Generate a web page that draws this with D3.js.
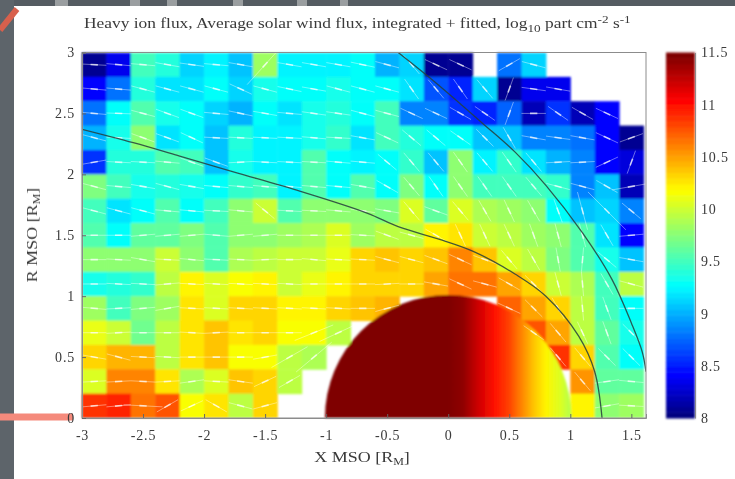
<!DOCTYPE html>
<html><head><meta charset="utf-8">
<script src="https://cdn.jsdelivr.net/npm/d3@7"></script>
<style>
html,body{margin:0;padding:0;background:#fff;overflow:hidden}
svg{display:block}
text{font-family:"Liberation Serif",serif;fill:#3a3a3a}
</style></head><body><svg id="c" width="735" height="479"></svg>
<script>
const n = null;
const xTicks = [-3,-2.5,-2,-1.5,-1,-0.5,0,0.5,1,1.5];
const rTicks = [0,0.5,1,1.5,2,2.5,3];
const cbTicks = [8,8.5,9,9.5,10,10.5,11,11.5];
const cellSize = 0.2;
const xStart = -3;
// log10 flux, top row (R 2.8-3) first; 23 columns from X=-3
const flux = [
[8.1,8.35,9.5,9.4,9.1,9.25,9.05,9.85,9.25,9.25,9.25,9.3,9.0,9.1,8.1,8.1,n,8.8,9.1,n,n,n,n],
[8.4,8.8,9.4,9.2,9.2,9.3,9.1,9.35,9.3,9.3,9.35,9.3,9.3,9.15,8.7,8.5,9.1,8.1,8.35,8.35,n,n,n],
[8.8,9.3,9.55,9.35,9.3,9.1,9.0,9.3,9.2,9.35,9.4,9.3,9.5,8.85,8.85,8.6,8.5,8.75,8.2,8.6,8.2,8.4,n],
[9.0,9.35,9.8,9.15,9.3,9.05,9.4,9.25,9.25,9.35,9.45,9.15,9.5,9.4,9.3,9.3,9.05,9.05,8.85,8.85,8.8,8.4,8.1],
[8.55,9.4,9.4,9.55,9.5,9.05,9.35,9.25,9.25,9.55,9.3,9.25,9.3,9.45,9.05,9.75,9.25,9.45,9.2,9.0,8.85,8.4,8.3],
[9.7,9.5,9.35,9.4,9.35,9.3,9.45,9.5,9.25,9.55,9.3,9.55,9.3,9.7,9.3,9.75,9.5,9.5,9.5,9.45,8.85,9.05,8.2],
[9.5,9.15,9.3,9.55,9.3,9.5,9.75,10.0,9.55,9.8,9.75,9.8,9.7,10.05,9.6,10.05,9.9,9.85,9.8,9.3,9.05,9.1,8.85],
[9.55,9.3,9.6,9.6,9.7,9.55,9.75,9.8,9.85,9.9,10.05,9.85,9.95,9.95,10.2,10.25,10.0,9.95,9.85,9.8,9.55,9.15,8.4],
[9.75,9.75,9.75,10.0,9.8,9.55,9.9,9.95,10.0,10.0,10.1,10.3,10.4,10.3,10.4,10.6,10.4,10.05,9.95,9.7,9.55,9.35,9.05],
[9.35,9.4,9.45,9.95,10.2,10.05,10.15,10.2,10.0,10.1,10.2,10.35,10.35,10.35,10.5,10.65,10.65,10.5,10.3,10.0,9.9,9.5,9.95],
[9.85,9.5,9.7,9.85,10.25,10.05,10.35,10.3,10.2,10.2,10.3,10.4,10.45,n,n,n,n,10.7,10.5,10.3,9.95,9.5,9.3],
[10.1,10.0,9.65,9.95,10.25,10.4,10.25,10.35,10.15,10.15,9.95,n,n,n,n,n,n,n,10.75,10.5,9.95,9.6,9.35],
[10.35,10.45,10.45,9.95,10.25,10.4,10.15,10.15,9.95,9.9,n,n,n,n,n,n,n,n,n,10.85,10.3,9.55,9.3],
[10.05,10.6,10.6,10.25,9.9,10.05,10.4,10.3,9.95,n,n,n,n,n,n,n,n,n,n,n,10.55,9.6,9.6],
[10.85,10.95,10.65,10.75,10.15,10.25,9.95,10.3,n,n,n,n,n,n,n,n,n,n,n,n,10.2,9.75,9.85]
];
// flow direction per cell, degrees (0 = +X, positive = up)
const flowAngle = [
[-3,-5,-5,-10,-8,-5,-10,48,-10,-10,-10,-12,-15,-50,-25,-25,n,30,-15,n,n,n,n],
[-5,-5,-15,-15,-15,-15,-25,-15,-12,-10,-15,-15,-15,-55,-50,-55,-50,70,-8,-10,n,n,n],
[-5,-2,-15,-20,-20,-5,-12,-10,-5,-8,-8,-15,-15,-25,-25,-30,-35,70,0,-35,-30,-25,n],
[-15,-3,-20,-20,-25,-3,-3,-3,-3,-5,-3,-10,-25,-40,-40,-35,-45,-60,-10,-8,-10,-25,20],
[10,-3,-3,-5,-20,-20,3,-3,-3,-3,-5,-5,-40,-50,-50,-55,-50,-55,-50,3,3,25,70],
[-15,-5,-10,-15,-10,-5,-5,-5,-5,-5,-5,-10,-30,-50,-55,-55,-55,-55,-50,-15,-15,-30,10],
[-15,-15,-15,-5,-5,-3,-5,-40,-3,-3,-5,-8,-10,-50,-20,-50,-60,-65,-60,-70,-75,-45,-40],
[0,0,5,5,5,-5,5,5,0,0,0,-3,-20,-15,-30,-65,-65,-65,-70,-75,-75,-60,5],
[0,-3,-10,-3,-5,-3,-3,3,0,-5,-3,-3,-15,-15,-20,-25,-20,-50,-60,-80,85,-40,-10],
[0,-3,-3,5,-3,-3,-3,-3,-3,0,0,0,3,0,-10,-25,-15,-30,-45,-75,-85,-60,-15],
[-5,3,5,10,-3,-3,-3,-3,-3,-3,-3,0,15,n,n,n,n,-25,-45,-60,-85,-70,0],
[0,3,0,0,-3,3,0,0,0,22,25,n,n,n,n,n,n,n,-35,-50,-65,-70,-45],
[-10,-15,-3,-3,0,0,0,10,30,40,n,n,n,n,n,n,n,n,n,-50,-50,-45,-45],
[3,3,-3,3,8,-3,-8,25,30,n,n,n,n,n,n,n,n,n,n,n,-50,8,-5],
[5,5,-3,30,25,-30,-15,15,n,n,n,n,n,n,n,n,n,n,n,n,n,10,-3]
];
// cells whose arrow is noticeably longer: [row, col, factor]
const longArrows = [[0,7,2.2],[14,2,1.6],[11,9,1.7],[11,10,1.7],[12,8,1.7],[12,9,1.9],[6,20,1.6],[6,21,2.2],[5,22,1.6]];
// fitted boundaries (X, R)
const bowShockX = [-0.41,-0.1,0.28,0.55,0.8,1.1,1.34,1.5,1.59,1.62];
const bowShockR = [3.0,2.75,2.42,2.18,1.91,1.52,1.14,0.78,0.54,0.38];
const magnetopauseX = [-3,-2.58,-2.2,-1.76,-1.21,-0.66,-0.41,-0.05,0.2,0.55,0.8,1.07,1.2,1.26];
const magnetopauseR = [2.37,2.26,2.15,2.02,1.86,1.68,1.57,1.46,1.37,1.18,1.0,0.67,0.38,0.0];
// planet disc shading
const planetX = [-1.0,0,0.12,0.25,0.38,0.5,0.6,0.7,0.8,0.92,1.02];
const planetVal = [11.5,11.5,11.4,11.2,11.0,10.8,10.6,10.4,10.2,10.05,9.9];
const planetRadius = 1.01;

const svg = d3.select("#c");
const L=82,R=646,T=52.5,B=418;
const x = d3.scaleLinear().domain([-3,1.62]).range([L,R]);
const y = d3.scaleLinear().domain([0,3]).range([B,T]);
const cb = d3.scaleLinear().domain([8,11.5]).range([418,52.5]);
const jetT = d3.scaleLinear().domain([0,0.11,0.36,0.625,0.875,1])
  .range(["#000080","#0000ff","#00ffff","#ffff00","#ff0000","#7f0000"]).interpolate(d3.interpolateRgb);
const jet = v => { const t=Math.min(63,Math.floor((v-8)/3.5*64))/63; return jetT(Math.max(0,t)); };

const defs = svg.append("defs");
defs.append("filter").attr("id","soft").attr("x","-5%").attr("y","-5%").attr("width","110%").attr("height","110%")
  .append("feGaussianBlur").attr("stdDeviation",1.0);
defs.append("filter").attr("id","softT").attr("x","-5%").attr("y","-5%").attr("width","110%").attr("height","110%")
  .append("feGaussianBlur").attr("stdDeviation",0.7);
defs.append("filter").attr("id","softL").attr("x","-5%").attr("y","-5%").attr("width","110%").attr("height","110%")
  .append("feGaussianBlur").attr("stdDeviation",0.45);
const grad = defs.append("linearGradient").attr("id","planetGrad").attr("gradientUnits","userSpaceOnUse")
  .attr("x1",x(planetX[0])).attr("x2",x(planetX[planetX.length-1])).attr("y1",0).attr("y2",0);
planetX.forEach((px,i)=>grad.append("stop")
  .attr("offset",(px-planetX[0])/(planetX[planetX.length-1]-planetX[0])).attr("stop-color",jet(planetVal[i])));
defs.append("clipPath").attr("id","plot").append("rect").attr("x",L).attr("y",T).attr("width",R-L).attr("height",B-T);

// slide backdrop
const back = svg.append("g").attr("class","backdrop");
back.append("rect").attr("width",735).attr("height",6).attr("fill","#555c62");
back.append("rect").attr("width",14).attr("height",479).attr("fill","#5d646a");
[[55,13],[130,10],[167,10],[233,10],[297,10],[340,8]].forEach(s=>
  back.append("rect").attr("x",s[0]).attr("width",s[1]).attr("height",6).attr("fill","#9a9ea0"));
back.append("line").attr("x1",0).attr("y1",30).attr("x2",17).attr("y2",9).attr("stroke","#d8604c").attr("stroke-width",6);
back.append("line").attr("x1",0).attr("y1",417).attr("x2",73).attr("y2",417).attr("stroke","#f58a7c").attr("stroke-width",7);

const g = svg.append("g").attr("filter","url(#soft)");
const cells=[];
flux.forEach((row,j)=>row.forEach((v,i)=>{ if(v!==null){
  const lg = longArrows.find(l=>l[0]===j&&l[1]===i);
  cells.push({i,j,v,a:flowAngle[j][i],k:lg?lg[2]:1}); }}));
const rowTop = j => 3-j*cellSize;
const colLeft = i => xStart+i*cellSize;
g.append("g").attr("clip-path","url(#plot)").selectAll("rect").data(cells).join("rect")
  .attr("x",d=>x(colLeft(d.i))).attr("y",d=>y(rowTop(d.j)))
  .attr("width",d=>x(colLeft(d.i)+cellSize)-x(colLeft(d.i))+0.5)
  .attr("height",d=>y(rowTop(d.j)-cellSize)-y(rowTop(d.j))+0.5)
  .attr("fill",d=>jet(d.v));

// planet
g.append("g").attr("clip-path","url(#plot)").append("ellipse")
  .attr("cx",x(0)).attr("cy",y(0))
  .attr("rx",x(planetRadius)-x(0)).attr("ry",y(0)-y(planetRadius))
  .attr("fill","url(#planetGrad)");

// flow arrows and boundaries, drawn a little sharper than the cells
const overlay = svg.append("g").attr("filter","url(#softL)");
const arrowLen = 0.1;
const arrows = overlay.append("g").attr("clip-path","url(#plot)").selectAll("g").data(cells.filter(d=>d.a!==null)).join("g")
  .attr("stroke","#fff").attr("fill","none");
const ax = d=>colLeft(d.i)+cellSize/2, ay = d=>rowTop(d.j)-cellSize/2;
const rad = d=>d.a*Math.PI/180;
arrows.append("line")
  .attr("x1",d=>x(ax(d)-Math.cos(rad(d))*arrowLen*d.k)).attr("y1",d=>y(ay(d)-Math.sin(rad(d))*arrowLen*d.k))
  .attr("x2",d=>x(ax(d)+Math.cos(rad(d))*arrowLen*d.k)).attr("y2",d=>y(ay(d)+Math.sin(rad(d))*arrowLen*d.k))
  .attr("stroke-width",0.7).attr("stroke-opacity",0.6);
arrows.append("line")
  .attr("x1",d=>x(ax(d)-Math.cos(rad(d))*0.03)).attr("y1",d=>y(ay(d)-Math.sin(rad(d))*0.03))
  .attr("x2",d=>x(ax(d)+Math.cos(rad(d))*0.03)).attr("y2",d=>y(ay(d)+Math.sin(rad(d))*0.03))
  .attr("stroke-width",1.6).attr("stroke-opacity",0.7);

const line = d3.line().curve(d3.curveCatmullRom);
const pts = (xs,rs)=>xs.map((v,i)=>[x(v),y(rs[i])]);
const bnd = overlay.append("g").attr("clip-path","url(#plot)").attr("fill","none").attr("stroke","#27403c").attr("stroke-width",1.3).attr("stroke-opacity",0.85);
bnd.append("path").attr("d",line(pts(bowShockX,bowShockR)));
bnd.append("path").attr("d",line(pts(magnetopauseX,magnetopauseR)));

// colour bar
const barG = svg.append("g").attr("filter","url(#soft)");
const levels = d3.range(64);
barG.selectAll("rect.b").data(levels).join("rect").attr("class","b")
  .attr("x",666).attr("width",29)
  .attr("y",d=>cb(8+(d+1)*3.5/64)).attr("height",d=>cb(8+d*3.5/64)-cb(8+(d+1)*3.5/64)+0.5)
  .attr("fill",d=>jet(8+(d+0.5)*3.5/64));

// axes
const tg = svg.append("g").attr("filter","url(#softT)");
tg.append("rect").attr("x",L).attr("y",T).attr("width",R-L).attr("height",B-T).attr("fill","none").attr("stroke","#8c8c8c").attr("stroke-width",1);
const styleAxis = a => {
  a.select(".domain").attr("stroke","#8c8c8c");
  a.selectAll("line").attr("stroke","#666");
  a.selectAll("text").attr("font-size",14).attr("letter-spacing",0.8).attr("font-family","Liberation Serif").attr("fill","#3a3a3a");
};
const fmt = v => String(v);
tg.append("g").attr("transform",`translate(0,${B})`)
  .call(d3.axisBottom(x).tickValues(xTicks).tickSize(-4).tickPadding(12).tickFormat(fmt)).call(styleAxis);
tg.append("g").attr("transform",`translate(${L},0)`)
  .call(d3.axisLeft(y).tickValues(rTicks).tickSize(-4).tickPadding(7).tickFormat(fmt)).call(styleAxis);
tg.append("g").attr("transform",`translate(695,0)`)
  .call(d3.axisRight(cb).tickValues(cbTicks).tickSize(0).tickPadding(6).tickFormat(fmt)).call(styleAxis);

// titles
const title = tg.append("text").attr("transform","translate(84,28) scale(1.2,1)").attr("font-size",14.5);
title.append("tspan").text("Heavy ion flux, Average solar wind flux, integrated + fitted, log");
title.append("tspan").attr("font-size",11).attr("dy",4).text("10");
title.append("tspan").attr("dy",-4).text(" part cm");
title.append("tspan").attr("font-size",11).attr("dy",-5).text("-2");
title.append("tspan").attr("dy",5).text(" s");
title.append("tspan").attr("font-size",11).attr("dy",-5).text("-1");
const xl = tg.append("text").attr("transform","translate(362,462) scale(1.2,1)").attr("text-anchor","middle").attr("font-size",15);
xl.append("tspan").text("X MSO [R");
xl.append("tspan").attr("font-size",10).attr("dy",3).text("M");
xl.append("tspan").attr("dy",-3).text("]");
const yl = tg.append("text").attr("transform","translate(37,235) rotate(-90) scale(1.2,1)").attr("text-anchor","middle").attr("font-size",15);
yl.append("tspan").text("R MSO [R");
yl.append("tspan").attr("font-size",10).attr("dy",3).text("M");
yl.append("tspan").attr("dy",-3).text("]");
</script></body></html>
